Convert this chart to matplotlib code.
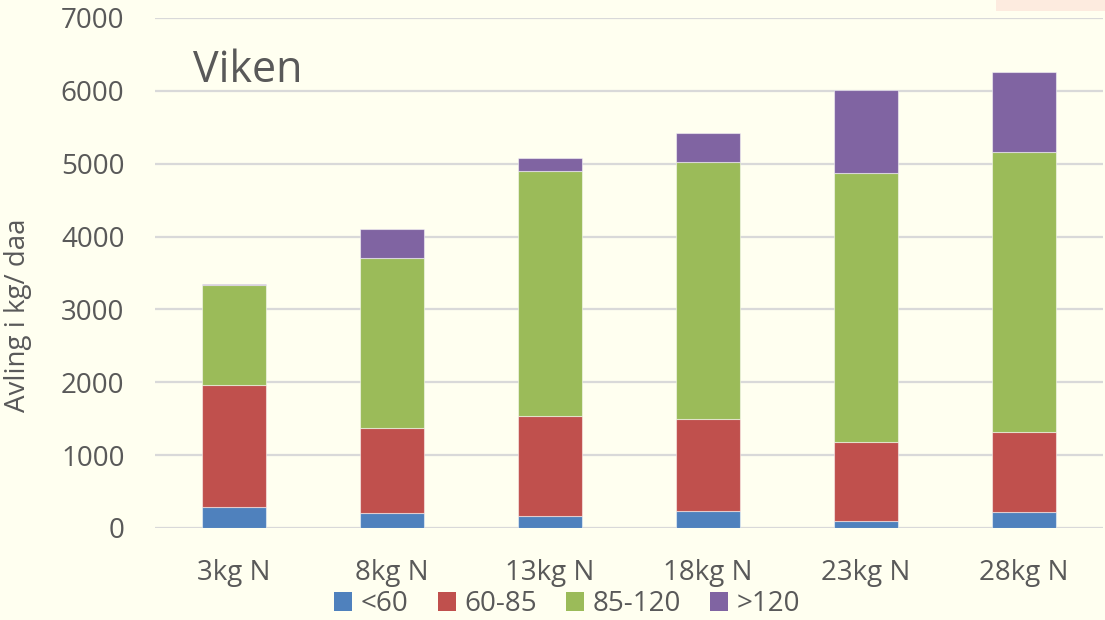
import matplotlib
matplotlib.use("Agg")
import matplotlib.pyplot as plt
from matplotlib.patches import Rectangle, Patch
import numpy as np

categories = ["3kg N", "8kg N", "13kg N", "18kg N", "23kg N", "28kg N"]
series_names = ["<60", "60-85", "85-120", ">120"]
s_lt60 = [283, 202, 170, 234, 96, 225]
s_60_85 = [1676, 1175, 1368, 1263, 1081, 1099]
s_85_120 = [1376, 2329, 3362, 3526, 3695, 3832]
s_gt120 = [10, 398, 174, 403, 1144, 1108]
colors = ["#4F81BD", "#C0504D", "#9BBB59", "#8064A2"]
yticks = [0, 1000, 2000, 3000, 4000, 5000, 6000, 7000]

plt.rcParams['font.family'] = ['Open Sans', 'DejaVu Sans']
txt = "#595959"
bg = "#FFFFF0"

fig = plt.figure(figsize=(11.05, 6.2), dpi=100, facecolor=bg)
ax = fig.add_axes([155/1105, 1 - 528/620, 948/1105, 510/620])
ax.set_facecolor(bg)

fig.patches.append(Rectangle((996/1105, 1 - 11/620), 109/1105, 11/620,
                             transform=fig.transFigure, facecolor="#FDEBDF",
                             edgecolor="none", zorder=0))

x = np.arange(len(categories))
bottom = np.zeros(len(categories))
handles = []
for vals, c, name in zip([s_lt60, s_60_85, s_85_120, s_gt120], colors, series_names):
    ax.bar(x, vals, width=0.405, bottom=bottom, color=c, edgecolor=(1, 1, 1, 0.5),
           linewidth=0.8, zorder=3)
    bottom += np.array(vals)
    handles.append(Patch(facecolor=c, edgecolor="none", label=name))

ax.set_xlim(-0.5, len(categories) - 0.5)
ax.set_ylim(0, 7000)
ax.set_yticks(yticks)
ax.set_yticklabels([str(v) for v in yticks])
ax.set_xticks(x)
ax.set_xticklabels(categories)
ax.grid(axis='y', color="#D9D9D9", linewidth=1.6, zorder=0)
ax.set_axisbelow(True)
for s in ax.spines.values():
    s.set_visible(False)
ax.tick_params(axis='both', length=0, labelsize=20, colors=txt)
ax.tick_params(axis='y', pad=22)
ax.tick_params(axis='x', pad=22)

fig.text(18/1105, 1 - 315/620, "Avling i kg/ daa", rotation=90, fontsize=20,
         color=txt, ha='center', va='center')
ax.text(193/1105, 1 - 82/620, "Viken", transform=fig.transFigure, fontsize=31,
        color=txt, ha='left', va='baseline')

fig.legend(handles=handles, loc='center', bbox_to_anchor=(567/1105, 1 - 604/620),
           ncol=4, frameon=False, fontsize=20, labelcolor=txt,
           handlelength=0.65, handleheight=0.65, handletextpad=0.3, columnspacing=1.05,
           borderaxespad=0, borderpad=0)

fig.savefig("out.png", dpi=100, facecolor=bg)
